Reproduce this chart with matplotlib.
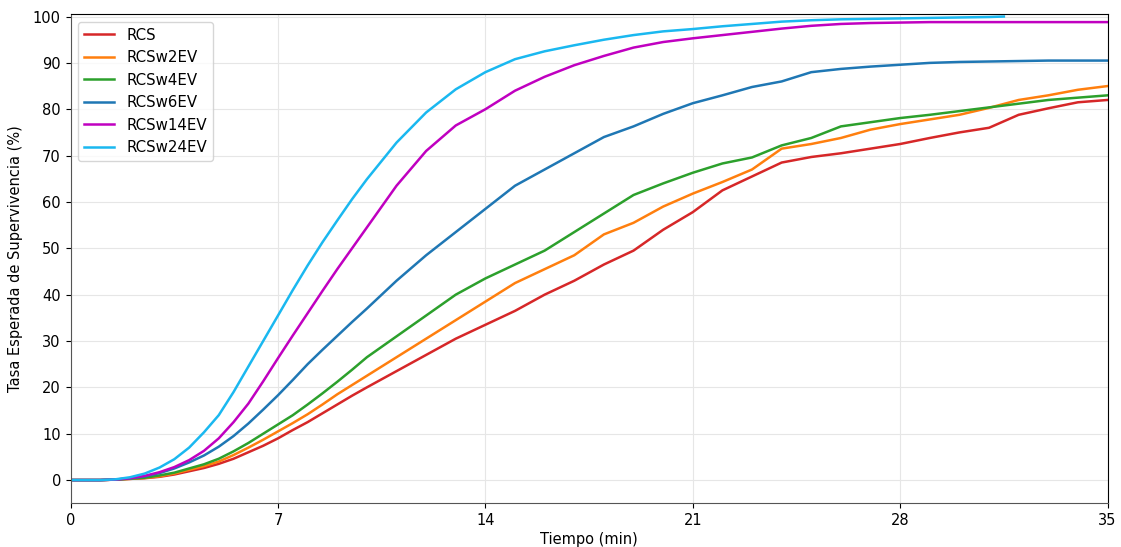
import numpy as np
import matplotlib
matplotlib.use("Agg")
import matplotlib.pyplot as plt

# tiempo (min)
tiempo = [0, 1, 1.5, 2, 2.5, 3, 3.5, 4, 4.5, 5, 5.5, 6, 6.5, 7, 7.5, 8, 8.5, 9, 9.5,
          10, 11, 12, 13, 14, 15, 16, 17, 18, 19, 20, 21, 22, 23, 24, 25, 26, 27, 28,
          29, 30, 31, 32, 33, 34, 35]
tiempo_24 = tiempo[:41] + [31.5]

rcs = [0, 0, 0.1, 0.25, 0.4, 0.7, 1.2, 1.9, 2.6, 3.5, 4.6, 6.0, 7.4, 9.0, 10.8, 12.5,
       14.4, 16.3, 18.2, 20.0, 23.5, 27.0, 30.5, 33.5, 36.5, 40.0, 43.0, 46.5, 49.5,
       54.0, 57.8, 62.5, 65.5, 68.5, 69.7, 70.5, 71.5, 72.5, 73.8, 75.0, 76.0, 78.8,
       80.2, 81.5, 82.0]
rcsw2ev = [0, 0, 0.1, 0.25, 0.45, 0.8, 1.4, 2.2, 3.0, 4.0, 5.4, 7.0, 8.7, 10.5, 12.3,
           14.2, 16.3, 18.5, 20.5, 22.5, 26.5, 30.5, 34.5, 38.5, 42.5, 45.5, 48.5, 53.0,
           55.5, 59.0, 61.8, 64.3, 67.0, 71.5, 72.5, 73.8, 75.6, 76.8, 77.8, 78.8, 80.3,
           82.0, 83.0, 84.2, 85.0]
rcsw4ev = [0, 0, 0.1, 0.3, 0.5, 1.0, 1.6, 2.5, 3.4, 4.6, 6.2, 8.0, 10.0, 12.0, 14.0,
           16.3, 18.7, 21.2, 23.8, 26.5, 31.0, 35.5, 40.0, 43.5, 46.5, 49.5, 53.5, 57.5,
           61.5, 64.0, 66.3, 68.3, 69.6, 72.2, 73.8, 76.3, 77.2, 78.1, 78.8, 79.6, 80.4,
           81.2, 82.0, 82.5, 83.0]
rcsw6ev = [0, 0, 0.1, 0.35, 0.8, 1.5, 2.5, 3.8, 5.3, 7.2, 9.5, 12.2, 15.2, 18.3, 21.6,
           25.0, 28.1, 31.1, 34.1, 37.0, 43.0, 48.5, 53.5, 58.5, 63.5, 67.0, 70.5, 74.0,
           76.3, 79.0, 81.3, 83.0, 84.8, 86.0, 88.0, 88.7, 89.2, 89.6, 90.0, 90.2, 90.3,
           90.4, 90.5, 90.5, 90.5]
rcsw14ev = [0, 0, 0.1, 0.4, 0.9, 1.7, 2.8, 4.3, 6.3, 9.0, 12.5, 16.5, 21.3, 26.3, 31.2,
            36.0, 40.8, 45.5, 50.0, 54.5, 63.5, 71.0, 76.5, 80.0, 84.0, 87.0, 89.5, 91.5,
            93.3, 94.5, 95.3, 96.0, 96.7, 97.4, 98.0, 98.4, 98.6, 98.7, 98.8, 98.8, 98.8,
            98.8, 98.8, 98.8, 98.8]
rcsw24ev = [0, 0, 0.15, 0.6, 1.4, 2.7, 4.5, 7.0, 10.3, 14.0, 19.0, 24.5, 30.0, 35.5,
            41.0, 46.3, 51.3, 56.0, 60.6, 64.9, 72.8, 79.3, 84.3, 88.0, 90.8, 92.5, 93.8,
            95.0, 96.0, 96.8, 97.3, 97.9, 98.4, 98.9, 99.2, 99.4, 99.5, 99.6, 99.7, 99.8,
            99.9, 100.0]

series = [
    ("RCS", tiempo, rcs, "#d62728"),
    ("RCSw2EV", tiempo, rcsw2ev, "#ff7f0e"),
    ("RCSw4EV", tiempo, rcsw4ev, "#2ca02c"),
    ("RCSw6EV", tiempo, rcsw6ev, "#1f77b4"),
    ("RCSw14EV", tiempo, rcsw14ev, "#c000c0"),
    ("RCSw24EV", tiempo_24, rcsw24ev, "#1ab8f0"),
]

fig = plt.figure(figsize=(11.21, 5.47), dpi=100)
ax = fig.add_axes([0.063, 0.080, 0.925, 0.894])

for name, t, v, c in series:
    ax.plot(t, v, color=c, lw=1.8, label=name)

ax.set_xlim(0, 35)
ax.set_ylim(-5, 100.5)
ax.set_xticks(np.arange(0, 36, 7))
ax.set_yticks(np.arange(0, 101, 10))
ax.grid(True, color="#e6e6e6", lw=0.8)
ax.tick_params(labelsize=10.5)
for s in ["left", "bottom"]:
    ax.spines[s].set_color("#555555")
ax.set_xlabel("Tiempo (min)", fontsize=10.5, labelpad=3)
ax.set_ylabel("Tasa Esperada de Supervivencia (%)", fontsize=10.5, labelpad=7)
ax.legend(loc="upper left", fontsize=10.8)

fig.savefig("out.png", dpi=100)
